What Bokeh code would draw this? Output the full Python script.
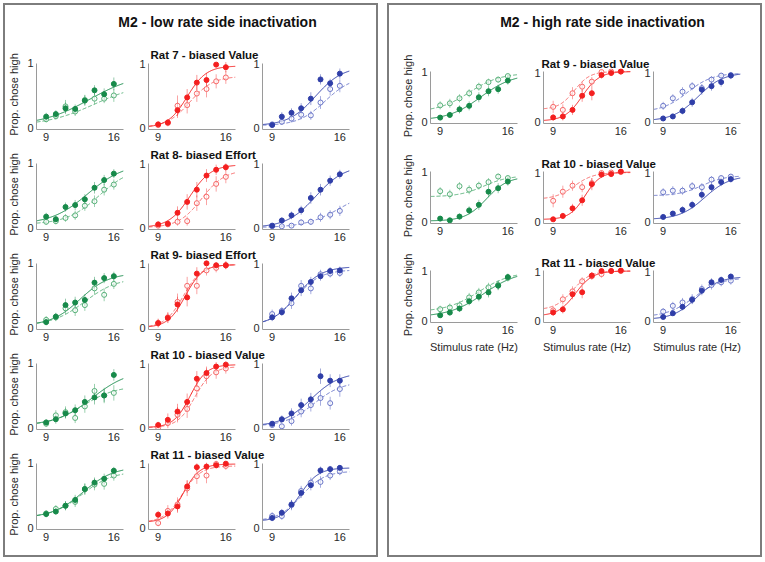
import numpy as np
from bokeh.plotting import figure
from bokeh.models import Range1d, FixedTicker, Label, Spacer, Column, Row
from bokeh.embed import file_html
from bokeh.resources import INLINE

FONT = "Liberation Sans"

rate = [9, 10, 11, 12, 13, 14, 15, 16]
rate_ticks = [9, 16]
prop_ticks = [0, 1]
x_lims = (8, 17)
y_lims = (-0.03, 1.06)

low_title = "M2 - low rate side inactivation"
high_title = "M2 - high rate side inactivation"
low_rats = ["Rat 7 - biased Value", "Rat 8- biased Effort", "Rat 9- biased Effort",
            "Rat 10 - biased Value", "Rat 11 - biased Value"]
high_rats = ["Rat 9 - biased Value", "Rat 10 - biased Value", "Rat 11 - biased Value"]
y_label = "Prop. chose high"
x_label = "Stimulus rate (Hz)"

green = ("#178a4a", "#56b078")
red = ("#f41f1f", "#f76868")
blue = ("#2f3ea8", "#6b77c9")
col_colors = [green, red, blue]

# ---------- low rate side inactivation (ctl = filled/solid, ina = open/dashed) ----------
# fit params: (lower, upper, midpoint, slope) for [ctl, ina]
lo7_g_ctl = [0.17, 0.21, 0.30, 0.29, 0.42, 0.58, 0.52, 0.68]
lo7_g_ina = [0.13, 0.18, 0.33, 0.25, 0.43, 0.45, 0.45, 0.50]
lo7_g_ec = [0.06, 0.06, 0.09, 0.07, 0.08, 0.08, 0.09, 0.10]
lo7_g_ei = [0.05, 0.06, 0.10, 0.07, 0.08, 0.09, 0.07, 0.10]
lo7_g_fit = [(0.03, 0.85, 13.5, 2.5), (0.03, 0.70, 14.0, 2.5)]

lo7_r_ctl = [0.05, 0.08, 0.27, 0.47, 0.70, 0.74, 0.98, 0.94]
lo7_r_ina = [0.04, 0.07, 0.34, 0.35, 0.53, 0.60, 0.72, 0.78]
lo7_r_ec = [0.04, 0.05, 0.12, 0.13, 0.12, 0.11, 0.03, 0.08]
lo7_r_ei = [0.04, 0.05, 0.16, 0.13, 0.13, 0.13, 0.11, 0.10]
lo7_r_fit = [(0.0, 0.96, 12.0, 1.0), (0.0, 0.80, 12.3, 1.2)]

lo7_b_ctl = [0.04, 0.17, 0.23, 0.30, 0.45, 0.75, 0.69, 0.84]
lo7_b_ina = [0.05, 0.09, 0.14, 0.20, 0.19, 0.39, 0.60, 0.65]
lo7_b_ec = [0.03, 0.07, 0.07, 0.08, 0.10, 0.08, 0.07, 0.08]
lo7_b_ei = [0.03, 0.05, 0.06, 0.07, 0.07, 0.10, 0.10, 0.10]
lo7_b_fit = [(0.03, 0.95, 13.5, 1.4), (0.03, 0.80, 14.5, 1.4)]

lo8_g_ctl = [0.17, 0.13, 0.32, 0.35, 0.44, 0.62, 0.74, 0.84]
lo8_g_ina = [0.09, 0.10, 0.15, 0.19, 0.34, 0.41, 0.59, 0.67]
lo8_g_ec = [0.06, 0.05, 0.07, 0.08, 0.08, 0.09, 0.08, 0.07]
lo8_g_ei = [0.05, 0.05, 0.06, 0.07, 0.08, 0.09, 0.09, 0.08]
lo8_g_fit = [(0.05, 1.0, 13.3, 1.9), (0.05, 0.95, 14.5, 1.7)]

lo8_r_ctl = [0.05, 0.06, 0.23, 0.40, 0.59, 0.81, 0.90, 0.94]
lo8_r_ina = [0.03, 0.05, 0.09, 0.10, 0.38, 0.48, 0.68, 0.79]
lo8_r_ec = [0.04, 0.04, 0.10, 0.12, 0.12, 0.10, 0.08, 0.06]
lo8_r_ei = [0.03, 0.04, 0.06, 0.07, 0.12, 0.13, 0.12, 0.10]
lo8_r_fit = [(0.0, 0.98, 12.3, 1.1), (0.0, 0.90, 13.5, 1.2)]

lo8_b_ctl = [0.03, 0.11, 0.19, 0.27, 0.46, 0.59, 0.73, 0.83]
lo8_b_ina = [0.02, 0.02, 0.03, 0.08, 0.09, 0.16, 0.20, 0.26]
lo8_b_ec = [0.02, 0.05, 0.06, 0.07, 0.09, 0.09, 0.08, 0.07]
lo8_b_ei = [0.02, 0.02, 0.03, 0.05, 0.05, 0.07, 0.07, 0.08]
lo8_b_fit = [(0.0, 0.97, 13.5, 1.5), (0.0, 0.60, 16.0, 1.8)]

lo9_g_ctl = [0.085, 0.17, 0.35, 0.39, 0.43, 0.70, 0.77, 0.80]
lo9_g_ina = [0.12, 0.16, 0.30, 0.27, 0.35, 0.61, 0.51, 0.68]
lo9_g_ec = [0.05, 0.06, 0.10, 0.09, 0.09, 0.09, 0.08, 0.07]
lo9_g_ei = [0.06, 0.06, 0.09, 0.09, 0.09, 0.10, 0.10, 0.08]
lo9_g_fit = [(0.03, 0.85, 12.5, 1.5), (0.03, 0.78, 13.0, 1.7)]

lo9_r_ctl = [0.07, 0.15, 0.36, 0.47, 0.84, 1.0, 0.97, 0.97]
lo9_r_ina = [0.07, 0.16, 0.40, 0.65, 0.65, 0.89, 0.93, 0.97]
lo9_r_ec = [0.06, 0.08, 0.12, 0.14, 0.10, 0.03, 0.05, 0.06]
lo9_r_ei = [0.07, 0.08, 0.13, 0.14, 0.13, 0.08, 0.07, 0.06]
lo9_r_fit = [(0.0, 0.98, 11.8, 0.9), (0.0, 0.98, 11.6, 0.95)]

lo9_b_ctl = [0.16, 0.24, 0.455, 0.58, 0.71, 0.80, 0.88, 0.89]
lo9_b_ina = [0.21, 0.26, 0.38, 0.65, 0.61, 0.83, 0.84, 0.85]
lo9_b_ec = [0.06, 0.06, 0.09, 0.09, 0.08, 0.07, 0.06, 0.06]
lo9_b_ei = [0.07, 0.06, 0.09, 0.09, 0.09, 0.07, 0.06, 0.06]
lo9_b_fit = [(0.03, 0.95, 11.5, 1.3), (0.03, 0.90, 11.4, 1.3)]

lo10_g_ctl = [0.08, 0.13, 0.22, 0.27, 0.40, 0.47, 0.50, 0.82]
lo10_g_ina = [0.06, 0.19, 0.24, 0.15, 0.33, 0.57, 0.50, 0.54]
lo10_g_ec = [0.05, 0.07, 0.08, 0.09, 0.10, 0.11, 0.10, 0.09]
lo10_g_ei = [0.05, 0.08, 0.09, 0.08, 0.10, 0.11, 0.12, 0.12]
lo10_g_fit = [(0.03, 0.90, 13.8, 1.9), (0.03, 0.65, 12.8, 1.7)]

lo10_r_ctl = [0.04, 0.12, 0.25, 0.40, 0.76, 0.85, 0.95, 0.98]
lo10_r_ina = [0.0, 0.07, 0.20, 0.29, 0.61, 0.80, 0.86, 0.92]
lo10_r_ec = [0.05, 0.10, 0.12, 0.13, 0.12, 0.10, 0.07, 0.05]
lo10_r_ei = [0.05, 0.08, 0.12, 0.14, 0.14, 0.12, 0.10, 0.08]
lo10_r_fit = [(0.0, 0.98, 12.3, 0.85), (0.0, 0.95, 12.8, 0.9)]

lo10_b_ctl = [0.06, 0.13, 0.22, 0.35, 0.44, 0.80, 0.73, 0.73]
lo10_b_ina = [0.04, 0.02, 0.10, 0.25, 0.35, 0.46, 0.38, 0.60]
lo10_b_ec = [0.04, 0.06, 0.08, 0.10, 0.10, 0.12, 0.10, 0.10]
lo10_b_ei = [0.04, 0.04, 0.07, 0.09, 0.10, 0.12, 0.10, 0.12]
lo10_b_fit = [(0.02, 0.86, 13.0, 1.5), (0.02, 0.72, 13.3, 1.5)]

lo11_g_ctl = [0.21, 0.25, 0.34, 0.43, 0.60, 0.70, 0.76, 0.885]
lo11_g_ina = [0.22, 0.29, 0.34, 0.40, 0.60, 0.67, 0.68, 0.81]
lo11_g_ec = [0.05, 0.05, 0.07, 0.08, 0.08, 0.08, 0.08, 0.06]
lo11_g_ei = [0.05, 0.06, 0.07, 0.08, 0.09, 0.09, 0.09, 0.08]
lo11_g_fit = [(0.15, 0.95, 12.8, 1.6), (0.15, 0.88, 12.7, 1.6)]

lo11_r_ctl = [0.20, 0.22, 0.33, 0.64, 0.94, 0.95, 0.97, 0.995]
lo11_r_ina = [0.07, 0.26, 0.36, 0.61, 0.80, 0.81, 0.99, 0.96]
lo11_r_ec = [0.06, 0.08, 0.10, 0.10, 0.06, 0.06, 0.05, 0.03]
lo11_r_ei = [0.05, 0.09, 0.11, 0.12, 0.12, 0.12, 0.05, 0.06]
lo11_r_fit = [(0.08, 0.99, 11.6, 0.85), (0.08, 0.96, 11.5, 0.95)]

lo11_b_ctl = [0.15, 0.23, 0.36, 0.54, 0.66, 0.89, 0.91, 0.93]
lo11_b_ina = [0.18, 0.18, 0.35, 0.57, 0.70, 0.71, 0.81, 0.875]
lo11_b_ec = [0.05, 0.06, 0.07, 0.08, 0.08, 0.06, 0.05, 0.04]
lo11_b_ei = [0.06, 0.06, 0.08, 0.08, 0.08, 0.09, 0.07, 0.06]
lo11_b_fit = [(0.10, 0.93, 11.9, 0.95), (0.10, 0.88, 12.0, 1.2)]

# ---------- high rate side inactivation ----------
hi9_g_ctl = [0.087, 0.14, 0.25, 0.32, 0.49, 0.61, 0.65, 0.82]
hi9_g_ina = [0.33, 0.37, 0.47, 0.57, 0.70, 0.79, 0.84, 0.91]
hi9_g_ec = [0.05, 0.06, 0.08, 0.09, 0.10, 0.10, 0.09, 0.08]
hi9_g_ei = [0.08, 0.09, 0.08, 0.08, 0.08, 0.07, 0.06, 0.05]
hi9_g_fit = [(0.03, 0.96, 13.2, 1.7), (0.20, 0.97, 12.0, 1.6)]

hi9_r_ctl = [0.09, 0.11, 0.24, 0.52, 0.57, 0.93, 0.97, 1.0]
hi9_r_ina = [0.30, 0.24, 0.57, 0.70, 0.80, 0.99, 1.0, 1.0]
hi9_r_ec = [0.06, 0.08, 0.10, 0.12, 0.14, 0.07, 0.05, 0.03]
hi9_r_ei = [0.12, 0.11, 0.12, 0.10, 0.09, 0.04, 0.03, 0.03]
hi9_r_fit = [(0.02, 1.0, 12.0, 0.9), (0.25, 1.0, 11.2, 0.8)]

hi9_b_ctl = [0.07, 0.11, 0.22, 0.39, 0.64, 0.71, 0.79, 0.92]
hi9_b_ina = [0.32, 0.47, 0.60, 0.71, 0.67, 0.84, 0.92, 0.93]
hi9_b_ec = [0.04, 0.05, 0.07, 0.09, 0.10, 0.09, 0.09, 0.07]
hi9_b_ei = [0.08, 0.08, 0.09, 0.08, 0.08, 0.07, 0.05, 0.05]
hi9_b_fit = [(0.02, 0.98, 12.6, 1.3), (0.20, 0.97, 11.5, 1.3)]

hi10_g_ctl = [0.067, 0.033, 0.107, 0.23, 0.34, 0.60, 0.67, 0.80]
hi10_g_ina = [0.61, 0.55, 0.71, 0.64, 0.72, 0.79, 0.90, 0.87]
hi10_g_ec = [0.05, 0.04, 0.06, 0.08, 0.10, 0.11, 0.10, 0.08]
hi10_g_ei = [0.08, 0.09, 0.08, 0.09, 0.08, 0.08, 0.06, 0.06]
hi10_g_fit = [(0.02, 0.90, 13.8, 1.1), (0.50, 0.92, 13.5, 1.3)]

hi10_r_ctl = [0.053, 0.12, 0.27, 0.43, 0.75, 0.94, 0.95, 1.0]
hi10_r_ina = [0.42, 0.60, 0.72, 0.69, 0.77, 0.97, 0.98, 0.99]
hi10_r_ec = [0.04, 0.06, 0.09, 0.11, 0.12, 0.06, 0.06, 0.04]
hi10_r_ei = [0.13, 0.12, 0.10, 0.10, 0.10, 0.05, 0.04, 0.03]
hi10_r_fit = [(0.05, 0.99, 12.3, 0.8), (0.45, 0.98, 11.2, 1.0)]

hi10_b_ctl = [0.10, 0.167, 0.24, 0.34, 0.54, 0.69, 0.79, 0.85]
hi10_b_ina = [0.59, 0.62, 0.62, 0.71, 0.69, 0.84, 0.87, 0.90]
hi10_b_ec = [0.04, 0.05, 0.07, 0.08, 0.09, 0.09, 0.08, 0.07]
hi10_b_ei = [0.08, 0.09, 0.08, 0.08, 0.08, 0.07, 0.06, 0.05]
hi10_b_fit = [(0.05, 0.92, 13.3, 1.3), (0.52, 0.92, 13.0, 1.2)]

hi11_g_ctl = [0.113, 0.167, 0.247, 0.39, 0.48, 0.567, 0.70, 0.87]
hi11_g_ina = [0.233, 0.267, 0.31, 0.467, 0.567, 0.667, 0.713, 0.853]
hi11_g_ec = [0.05, 0.06, 0.07, 0.08, 0.09, 0.10, 0.09, 0.07]
hi11_g_ei = [0.07, 0.08, 0.08, 0.09, 0.09, 0.09, 0.09, 0.07]
hi11_g_fit = [(0.08, 1.0, 13.5, 1.8), (0.18, 0.98, 13.0, 1.7)]

hi11_r_ctl = [0.17, 0.23, 0.53, 0.57, 0.90, 0.99, 0.99, 1.0]
hi11_r_ina = [0.21, 0.43, 0.587, 0.787, 0.887, 0.93, 0.99, 0.99]
hi11_r_ec = [0.07, 0.08, 0.10, 0.12, 0.07, 0.05, 0.04, 0.03]
hi11_r_ei = [0.08, 0.10, 0.10, 0.08, 0.07, 0.07, 0.05, 0.05]
hi11_r_fit = [(0.10, 0.99, 11.3, 0.9), (0.22, 0.99, 11.0, 0.9)]

hi11_b_ctl = [0.08, 0.153, 0.28, 0.42, 0.60, 0.767, 0.813, 0.88]
hi11_b_ina = [0.187, 0.30, 0.367, 0.433, 0.633, 0.713, 0.767, 0.80]
hi11_b_ec = [0.04, 0.05, 0.07, 0.08, 0.09, 0.08, 0.07, 0.06]
hi11_b_ei = [0.07, 0.08, 0.09, 0.10, 0.09, 0.09, 0.08, 0.08]
hi11_b_fit = [(0.03, 0.88, 12.4, 1.2), (0.08, 0.86, 12.2, 1.4)]

low_rows = [
    [(lo7_g_ctl, lo7_g_ina, lo7_g_ec, lo7_g_ei, lo7_g_fit),
     (lo7_r_ctl, lo7_r_ina, lo7_r_ec, lo7_r_ei, lo7_r_fit),
     (lo7_b_ctl, lo7_b_ina, lo7_b_ec, lo7_b_ei, lo7_b_fit)],
    [(lo8_g_ctl, lo8_g_ina, lo8_g_ec, lo8_g_ei, lo8_g_fit),
     (lo8_r_ctl, lo8_r_ina, lo8_r_ec, lo8_r_ei, lo8_r_fit),
     (lo8_b_ctl, lo8_b_ina, lo8_b_ec, lo8_b_ei, lo8_b_fit)],
    [(lo9_g_ctl, lo9_g_ina, lo9_g_ec, lo9_g_ei, lo9_g_fit),
     (lo9_r_ctl, lo9_r_ina, lo9_r_ec, lo9_r_ei, lo9_r_fit),
     (lo9_b_ctl, lo9_b_ina, lo9_b_ec, lo9_b_ei, lo9_b_fit)],
    [(lo10_g_ctl, lo10_g_ina, lo10_g_ec, lo10_g_ei, lo10_g_fit),
     (lo10_r_ctl, lo10_r_ina, lo10_r_ec, lo10_r_ei, lo10_r_fit),
     (lo10_b_ctl, lo10_b_ina, lo10_b_ec, lo10_b_ei, lo10_b_fit)],
    [(lo11_g_ctl, lo11_g_ina, lo11_g_ec, lo11_g_ei, lo11_g_fit),
     (lo11_r_ctl, lo11_r_ina, lo11_r_ec, lo11_r_ei, lo11_r_fit),
     (lo11_b_ctl, lo11_b_ina, lo11_b_ec, lo11_b_ei, lo11_b_fit)],
]
high_rows = [
    [(hi9_g_ctl, hi9_g_ina, hi9_g_ec, hi9_g_ei, hi9_g_fit),
     (hi9_r_ctl, hi9_r_ina, hi9_r_ec, hi9_r_ei, hi9_r_fit),
     (hi9_b_ctl, hi9_b_ina, hi9_b_ec, hi9_b_ei, hi9_b_fit)],
    [(hi10_g_ctl, hi10_g_ina, hi10_g_ec, hi10_g_ei, hi10_g_fit),
     (hi10_r_ctl, hi10_r_ina, hi10_r_ec, hi10_r_ei, hi10_r_fit),
     (hi10_b_ctl, hi10_b_ina, hi10_b_ec, hi10_b_ei, hi10_b_fit)],
    [(hi11_g_ctl, hi11_g_ina, hi11_g_ec, hi11_g_ei, hi11_g_fit),
     (hi11_r_ctl, hi11_r_ina, hi11_r_ec, hi11_r_ei, hi11_r_fit),
     (hi11_b_ctl, hi11_b_ina, hi11_b_ec, hi11_b_ei, hi11_b_fit)],
]

FW = 87
INNER_W = 371
AX_COLOR = "#9a9a9a"
TXT_COLOR = "#2a2a2a"


def logistic(params, xs):
    lo, hi, mu, s = params
    return lo + (hi - lo) / (1.0 + np.exp(-(xs - mu) / s))


def style_axes(p):
    for ax in list(p.xaxis) + list(p.yaxis):
        ax.axis_line_color = AX_COLOR
        ax.axis_line_width = 1
        ax.major_tick_line_color = None
        ax.minor_tick_line_color = None
        ax.major_tick_out = 0
        ax.major_tick_in = 0
        ax.major_label_standoff = 3
        ax.major_label_text_font = FONT
        ax.major_label_text_font_size = "11px"
        ax.major_label_text_color = TXT_COLOR
        ax.axis_label_text_font = FONT
        ax.axis_label_text_font_size = "11px"
        ax.axis_label_text_font_style = "normal"
        ax.axis_label_text_color = TXT_COLOR
        ax.axis_label_standoff = 4
    p.xaxis.ticker = FixedTicker(ticks=rate_ticks, minor_ticks=[])
    p.yaxis.ticker = FixedTicker(ticks=prop_ticks, minor_ticks=[])
    p.yaxis.bounds = (y_lims[0], 1.0)


def subplot(spec, colors, left, right, top, bottom, fh, ylab=None, xlab=None):
    ctl, ina, ec, ei, fits = spec
    dark, light = colors
    p = figure(width=left + FW + right, height=top + fh + bottom,
               x_range=Range1d(*x_lims), y_range=Range1d(*y_lims),
               min_border_left=left, min_border_right=right,
               min_border_top=top, min_border_bottom=bottom,
               toolbar_location=None, output_backend="svg")
    p.outline_line_color = None
    p.grid.visible = False
    xs = np.linspace(x_lims[0], x_lims[1], 150)
    p.line(xs, logistic(fits[1], xs), line_color=light, line_width=1, line_dash="4 2")
    p.line(xs, logistic(fits[0], xs), line_color=dark, line_width=1)
    p.segment(rate, [v - e for v, e in zip(ina, ei)], rate, [v + e for v, e in zip(ina, ei)],
              line_color=light, line_alpha=0.6, line_width=1)
    p.segment(rate, [v - e for v, e in zip(ctl, ec)], rate, [v + e for v, e in zip(ctl, ec)],
              line_color=dark, line_alpha=0.45, line_width=1)
    p.scatter(rate, ina, size=5, marker="circle", fill_color="white", fill_alpha=0.6,
              line_color=light, line_width=1)
    p.scatter(rate, ctl, size=5, marker="circle", fill_color=dark, line_color=dark)
    style_axes(p)
    if ylab:
        p.yaxis.axis_label = ylab
    if xlab:
        p.xaxis.axis_label = xlab
    return p


def strip(width, height, labels):
    p = figure(width=width, height=height, x_range=Range1d(0, width),
               y_range=Range1d(0, height), min_border=0, toolbar_location=None,
               output_backend="svg", x_axis_location=None, y_axis_location=None)
    p.outline_line_color = None
    p.grid.visible = False
    for (x, y, text, size, align) in labels:
        p.add_layout(Label(x=x, y=y, text=text, text_font=FONT, text_font_size=size,
                           text_font_style="bold", text_color="#111111",
                           text_align=align, text_baseline="middle"))
    return p


def panel(title, rats, rows, borders, fh, title_h, title_x, title_y, strip_hs,
          rat_x, last_bottom, filler):
    children = [strip(INNER_W, title_h, [(title_x, title_y, title, "14px", "center")])]
    n = len(rows)
    for i, (rat, specs) in enumerate(zip(rats, rows)):
        last = (i == n - 1)
        bottom = last_bottom if last else 17
        xlab = x_label if (last and last_bottom > 17) else None
        s_h = strip_hs[i]
        figs = []
        for j, spec in enumerate(specs):
            left, right = borders[j]
            figs.append(subplot(spec, col_colors[j], left, right,
                                s_h if j == 0 else 0, bottom, fh,
                                ylab=y_label if j == 0 else None, xlab=xlab))
        w23 = figs[1].width + figs[2].width
        rat_strip = strip(w23, s_h, [(rat_x, 5, rat, "11.5px", "left")])
        block = Row(children=[figs[0],
                              Column(children=[rat_strip, Row(children=figs[1:], spacing=0)],
                                     spacing=0)],
                    spacing=0)
        children.append(block)
    children.append(Spacer(width=INNER_W, height=filler))
    return Column(children=children, spacing=0,
                  styles={"border": "2px solid #7d7d7d", "background-color": "white"})


left_panel = panel(low_title, low_rats, low_rows,
                   borders=[(31, 11), (14, 13), (14, 27)], fh=70,
                   title_h=41, title_x=212, title_y=25, strip_hs=[13, 13, 13, 13, 13],
                   rat_x=16, last_bottom=17, filler=9)
right_panel = panel(high_title, high_rats, high_rows,
                    borders=[(41, 12), (14, 9), (14, 20)], fh=55,
                    title_h=35, title_x=213, title_y=19, strip_hs=[28, 28, 27],
                    rat_x=12, last_bottom=34, filler=199)

layout = Column(children=[
    Spacer(width=10, height=3),
    Row(children=[Spacer(width=3, height=10), left_panel,
                  Spacer(width=9, height=10), right_panel], spacing=0),
], spacing=0)

open("out.html", "w").write(file_html(layout, INLINE))
